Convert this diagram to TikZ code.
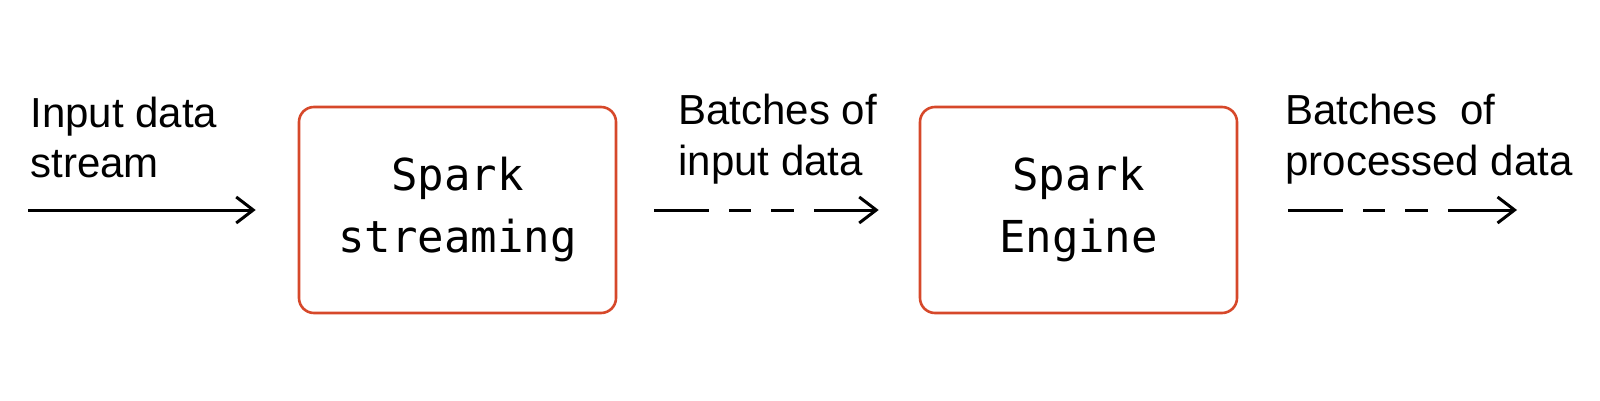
\documentclass[tikz,border=0pt]{standalone}
\usepackage{fontspec}
\setmainfont{Liberation Sans}
\newfontfamily\boxfont{DejaVu Sans Mono}
\usetikzlibrary{arrows.meta}
\definecolor{boxred}{RGB}{214,72,42}
\tikzset{
  lbl/.style={inner sep=0pt, align=left, font=\fontsize{21}{25}\selectfont},
  procbox/.style={draw=boxred, line width=1.3pt, rounded corners=7.5pt,
    minimum width=158.5pt, minimum height=103pt, align=center,
    font=\boxfont\fontsize{22}{31}\selectfont},
  flow/.style={line width=1.5pt, -{Straight Barb[length=8.5pt,width=13pt,line width=1.5pt]}},
  dashflow/.style={flow, dash pattern=on 27.5pt off 10pt on 11pt off 10pt on 11.5pt off 10pt on 200pt}
}
\begin{document}
\begin{tikzpicture}[x=0.5pt,y=-0.5pt]
\useasboundingbox (0,0) rectangle (1600,401);
\node[procbox] (b1) at (457.5,210) {Spark\\streaming};
\node[procbox] (b2) at (1078.5,210) {Spark\\Engine};
\node[lbl, anchor=base west] (l1) at (30,177) {Input data\\stream};
\node[lbl, anchor=base west] (l2) at (678,175) {Batches of\\input data};
\node[lbl, anchor=base west] (l3) at (1285,175) {Batches\ \ of\\processed data};
\coordinate (s1) at (28,210);
\coordinate (e3) at (1517,210);
\draw[flow, shorten >=21pt] (s1) -- (b1.west);
\draw[dashflow, shorten <=18.5pt, shorten >=20pt] (b1.east) -- (b2.west);
\draw[dashflow, shorten <=25pt] (b2.east) -- (e3);
\end{tikzpicture}
\end{document}
